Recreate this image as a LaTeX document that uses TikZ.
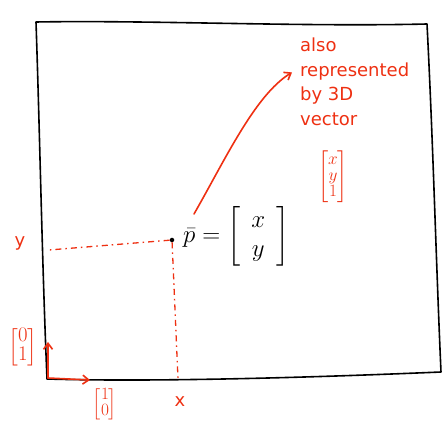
\documentclass[tikz,border=0pt]{standalone}
\usepackage{fontspec}
\setmainfont{DejaVu Sans}
\usepackage{amsmath}
\usetikzlibrary{positioning,arrows.meta}
\definecolor{penred}{RGB}{238,48,18}

\begin{document}
\begin{tikzpicture}[
x=1pt,y=-1pt,
ink/.style={line width=1.6pt,line cap=round,line join=round},
redink/.style={ink,draw=penred},
guide/.style={draw=penred,line width=1.3pt,dash pattern=on 6pt off 4pt on 1.5pt off 4pt},
note/.style={text=penred,font=\fontsize{18}{20}\selectfont,inner sep=0pt,anchor=west,
  text height=12pt,text depth=4pt},
vec/.style={text=penred,font=\fontsize{16}{17}\selectfont\renewcommand{\arraystretch}{0.95},inner sep=0pt},
>={Straight Barb[length=6pt,width=9pt]}
]
\useasboundingbox (0,0) rectangle (445,422);

% frame corners
\coordinate (tl) at (36,22);
\coordinate (tr) at (427,24);
\coordinate (br) at (441,372);
\coordinate (bl) at (47,379);
\draw[ink] (tl) .. controls (150,20) and (300,27) .. (tr)
  .. controls (433,140) and (436,260) .. (br)
  .. controls (300,378) and (150,382) .. (bl)
  .. controls (42,260) and (40,140) .. (tl);

% the point
\node[circle,fill=black,inner sep=1.6pt] (p) at (172,240) {};
\node[anchor=west,font=\fontsize{23}{26}\selectfont\renewcommand{\arraystretch}{1.1},inner sep=0pt] (peq) at (183,236)
  {$\bar{p} = \begin{bmatrix} \hspace{11pt}x\hspace{11pt} \\ \hspace{11pt}y\hspace{11pt} \end{bmatrix}$};

% projections
\coordinate (yend) at (49,250);
\coordinate (xend) at (178,379);
\draw[guide] (p) -- (yend);
\draw[guide] (p) -- (xend);
\node[text=penred,font=\fontsize{18}{20}\selectfont] (ylab) at (20,243) {y};
\node[text=penred,font=\fontsize{18}{20}\selectfont] (xlab) at (180,402) {x};

% note
\node[note] (n1) at (300,48) {also};
\node[note,below=8pt of n1.south west,anchor=north west] (n2) {represented};
\node[note,below=8pt of n2.south west,anchor=north west] (n3) {by 3D};
\node[note,below=8pt of n3.south west,anchor=north west] (n4) {vector};
\node[vec] (v3) at (333,177) {$\begin{bmatrix} x \\ y \\ 1 \end{bmatrix}$};
\draw[redink,->] (194,214) .. controls (225,160) and (255,95) .. ([xshift=-8pt]n2.west);

% basis vectors
\coordinate (o) at (48,378);
\coordinate (e2) at (48,342);
\coordinate (e1) at (90,380);
\draw[redink,->] (o) -- (e2);
\draw[redink,->] (o) -- (e1);
\node[vec,font=\fontsize{20}{22}\selectfont\renewcommand{\arraystretch}{0.85}] (b2) at (23,347) {$\begin{bmatrix} 0 \\ 1 \end{bmatrix}$};
\node[vec,font=\fontsize{17}{19}\selectfont\renewcommand{\arraystretch}{0.8}] (b1) at (105,404) {$\begin{bmatrix} 1 \\ 0 \end{bmatrix}$};
\end{tikzpicture}
\end{document}
